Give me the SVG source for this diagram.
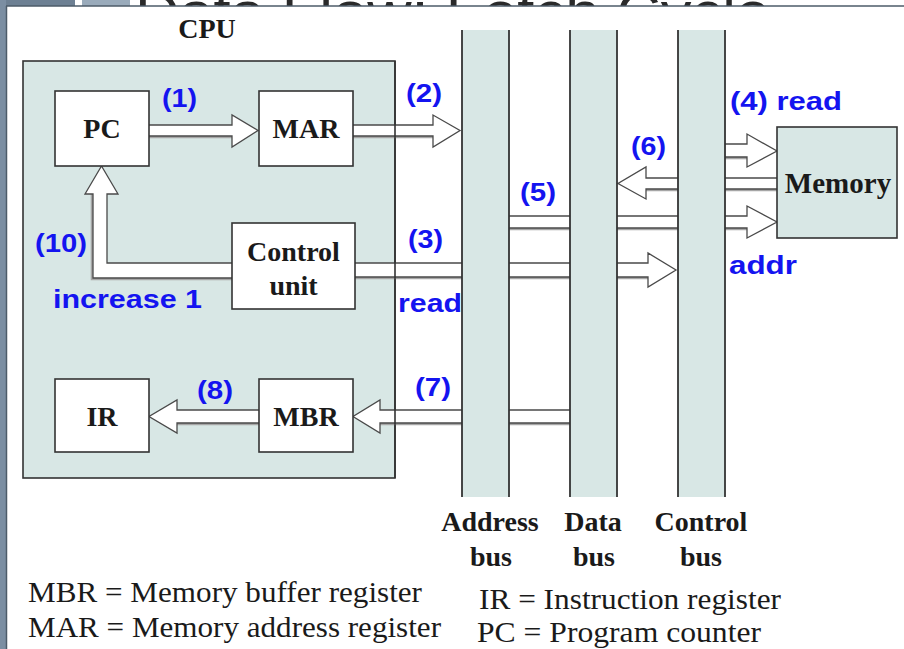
<svg xmlns="http://www.w3.org/2000/svg" width="904" height="649" viewBox="0 0 904 649">
  <defs>
    <style>
      .panel { fill: #d8e7e5; stroke: #333; stroke-width: 1.6; }
      .box { fill: #ffffff; stroke: #333; stroke-width: 1.6; }
      .bus { fill: #d8e7e5; }
      .busedge { stroke: #333; stroke-width: 1.8; }
      .arrow { fill: #ffffff; stroke: #4a4a4a; stroke-width: 1.3; stroke-linejoin: miter; }
      .shade { stroke: #a6a6a6; stroke-width: 2.6; fill: none; }
      .lbl { font-family: "Liberation Serif", "Times New Roman", serif; font-weight: bold; font-size: 28px; fill: #1a1a1a; text-anchor: middle; }
      .num { font-family: "Liberation Sans", Arial, sans-serif; font-weight: bold; font-size: 26px; fill: #1414f0; }
      .legend { font-family: "Liberation Serif", "Times New Roman", serif; font-size: 29px; fill: #1a1a1a; }
      .title { font-family: "Liberation Sans", Arial, sans-serif; font-size: 56px; fill: #2a2a2a; }
    </style>
  </defs>

  <!-- slide frame -->
  <rect x="0" y="0" width="904" height="649" fill="#ffffff"/>
  <rect x="0" y="0" width="75" height="6" fill="#6d8093"/>
  <rect x="82" y="0" width="48" height="6" fill="#9aabbb"/>
  <svg x="0" y="0" width="904" height="6" overflow="hidden">
    <text class="title" x="135" y="31" textLength="635" lengthAdjust="spacingAndGlyphs">Data Flow: Fetch Cycle</text>
  </svg>
  <rect x="0" y="0" width="6" height="649" fill="#7b8ea2"/>
  <line x1="6.5" y1="6" x2="6.5" y2="649" stroke="#4d5b69" stroke-width="1.5"/>
  <line x1="6" y1="6" x2="904" y2="6" stroke="#4d5b69" stroke-width="1.5"/>

  <!-- CPU enclosure -->
  <g id="cpu">
    <rect class="panel" x="23" y="61" width="372" height="417"/>
    <text class="lbl" x="207" y="38">CPU</text>
  </g>

  <!-- connectors -->
  <g id="connectors">
    <!-- (1) PC to MAR -->
    <line class="shade" x1="149" y1="137" x2="232" y2="137"/>
    <path class="arrow" d="M149,125 H232 V115 L258,130.5 L232,147 V136 H149"/>
    <!-- (2) MAR to address bus -->
    <line class="shade" x1="353" y1="137" x2="433" y2="137"/>
    <path class="arrow" d="M353,125 H433 V115 L460,130.5 L433,147 V136 H353"/>
    <!-- (10) control unit back to PC -->
    <path class="shade" d="M232,279 H92 V194"/>
    <path class="arrow" d="M232,263 H107 V194 H118 L101.5,166 L85,194 H93 V278 H232"/>
    <!-- (3) control unit to control bus -->
    <line class="shade" x1="355" y1="278" x2="648" y2="278"/>
    <path class="arrow" d="M355,263 H648 V253 L676,270 L648,287 V277 H355"/>
    <!-- (4) read line into memory -->
    <line class="shade" x1="725" y1="158" x2="747" y2="158"/>
    <path class="arrow" d="M725,144 H747 V134 L777,151 L747,167 V157 H725"/>
    <!-- (5) address onto memory -->
    <line class="shade" x1="509" y1="229" x2="747" y2="229"/>
    <path class="arrow" d="M509,216 H747 V206 L777,222 L747,238 V228 H509"/>
    <!-- (6) memory onto data bus -->
    <line class="shade" x1="646" y1="190" x2="777" y2="190"/>
    <path class="arrow" d="M777,178 H646 V167 L618,183.5 L646,199 V189 H777"/>
    <!-- (7) data bus to MBR -->
    <line class="shade" x1="380" y1="424" x2="570" y2="424"/>
    <path class="arrow" d="M570,410 H380 V400 L353,416.5 L380,433 V423 H570"/>
    <!-- (8) MBR to IR -->
    <line class="shade" x1="177" y1="424" x2="259" y2="424"/>
    <path class="arrow" d="M259,410 H177 V400 L149,416.5 L177,433 V423 H259"/>
  </g>

  <!-- CPU edge over the crossing shafts -->
  <line x1="395" y1="61" x2="395" y2="478" stroke="#333" stroke-width="1.6"/>

  <!-- system buses -->
  <g id="address-bus">
    <rect class="bus" x="462" y="30" width="47" height="467"/>
    <line class="busedge" x1="462" y1="30" x2="462" y2="497"/>
    <line class="busedge" x1="509" y1="30" x2="509" y2="497"/>
    <text class="lbl" x="490" y="531">Address</text>
    <text class="lbl" x="491" y="566">bus</text>
  </g>
  <g id="data-bus">
    <rect class="bus" x="570" y="30" width="47" height="467"/>
    <line class="busedge" x1="570" y1="30" x2="570" y2="497"/>
    <line class="busedge" x1="617" y1="30" x2="617" y2="497"/>
    <text class="lbl" x="593" y="531">Data</text>
    <text class="lbl" x="594" y="566">bus</text>
  </g>
  <g id="control-bus">
    <rect class="bus" x="678" y="30" width="47" height="467"/>
    <line class="busedge" x1="678" y1="30" x2="678" y2="497"/>
    <line class="busedge" x1="725" y1="30" x2="725" y2="497"/>
    <text class="lbl" x="701" y="531">Control</text>
    <text class="lbl" x="701" y="566">bus</text>
  </g>

  <!-- registers and units -->
  <g id="pc">
    <rect class="box" x="55" y="91" width="94" height="75"/>
    <text class="lbl" x="102" y="138">PC</text>
  </g>
  <g id="mar">
    <rect class="box" x="259" y="91" width="94" height="75"/>
    <text class="lbl" x="306" y="138">MAR</text>
  </g>
  <g id="control-unit">
    <rect class="box" x="232" y="223" width="123" height="86"/>
    <text class="lbl" x="293.5" y="261">Control</text>
    <text class="lbl" x="293.5" y="295">unit</text>
  </g>
  <g id="ir">
    <rect class="box" x="55" y="379" width="94" height="73"/>
    <text class="lbl" x="102" y="426">IR</text>
  </g>
  <g id="mbr">
    <rect class="box" x="259" y="379" width="94" height="73"/>
    <text class="lbl" x="306" y="426">MBR</text>
  </g>
  <g id="memory">
    <rect class="panel" x="777" y="127" width="120" height="111"/>
    <text class="lbl" x="838" y="193" style="font-size:29px">Memory</text>
  </g>

  <!-- step labels -->
  <g id="steps">
    <text class="num" x="162" y="107" textLength="35" lengthAdjust="spacingAndGlyphs">(1)</text>
    <text class="num" x="406" y="102" textLength="36" lengthAdjust="spacingAndGlyphs">(2)</text>
    <text class="num" x="35" y="252" textLength="52" lengthAdjust="spacingAndGlyphs">(10)</text>
    <text class="num" x="53" y="308" textLength="149" lengthAdjust="spacingAndGlyphs">increase 1</text>
    <text class="num" x="408" y="248" textLength="35" lengthAdjust="spacingAndGlyphs">(3)</text>
    <text class="num" x="398" y="312" textLength="64" lengthAdjust="spacingAndGlyphs">read</text>
    <text class="num" x="730" y="110" textLength="112" lengthAdjust="spacingAndGlyphs">(4) read</text>
    <text class="num" x="631" y="155" textLength="35" lengthAdjust="spacingAndGlyphs">(6)</text>
    <text class="num" x="520" y="201" textLength="36" lengthAdjust="spacingAndGlyphs">(5)</text>
    <text class="num" x="729" y="274" textLength="68" lengthAdjust="spacingAndGlyphs">addr</text>
    <text class="num" x="415" y="396" textLength="36" lengthAdjust="spacingAndGlyphs">(7)</text>
    <text class="num" x="197" y="399" textLength="36" lengthAdjust="spacingAndGlyphs">(8)</text>
  </g>

  <!-- legend -->
  <g id="legend">
    <text class="legend" x="28" y="602" textLength="394" lengthAdjust="spacingAndGlyphs">MBR = Memory buffer register</text>
    <text class="legend" x="28" y="637" textLength="413" lengthAdjust="spacingAndGlyphs">MAR = Memory address register</text>
    <text class="legend" x="479" y="609" textLength="302" lengthAdjust="spacingAndGlyphs">IR = Instruction register</text>
    <text class="legend" x="477" y="642" textLength="284" lengthAdjust="spacingAndGlyphs">PC = Program counter</text>
  </g>
</svg>
